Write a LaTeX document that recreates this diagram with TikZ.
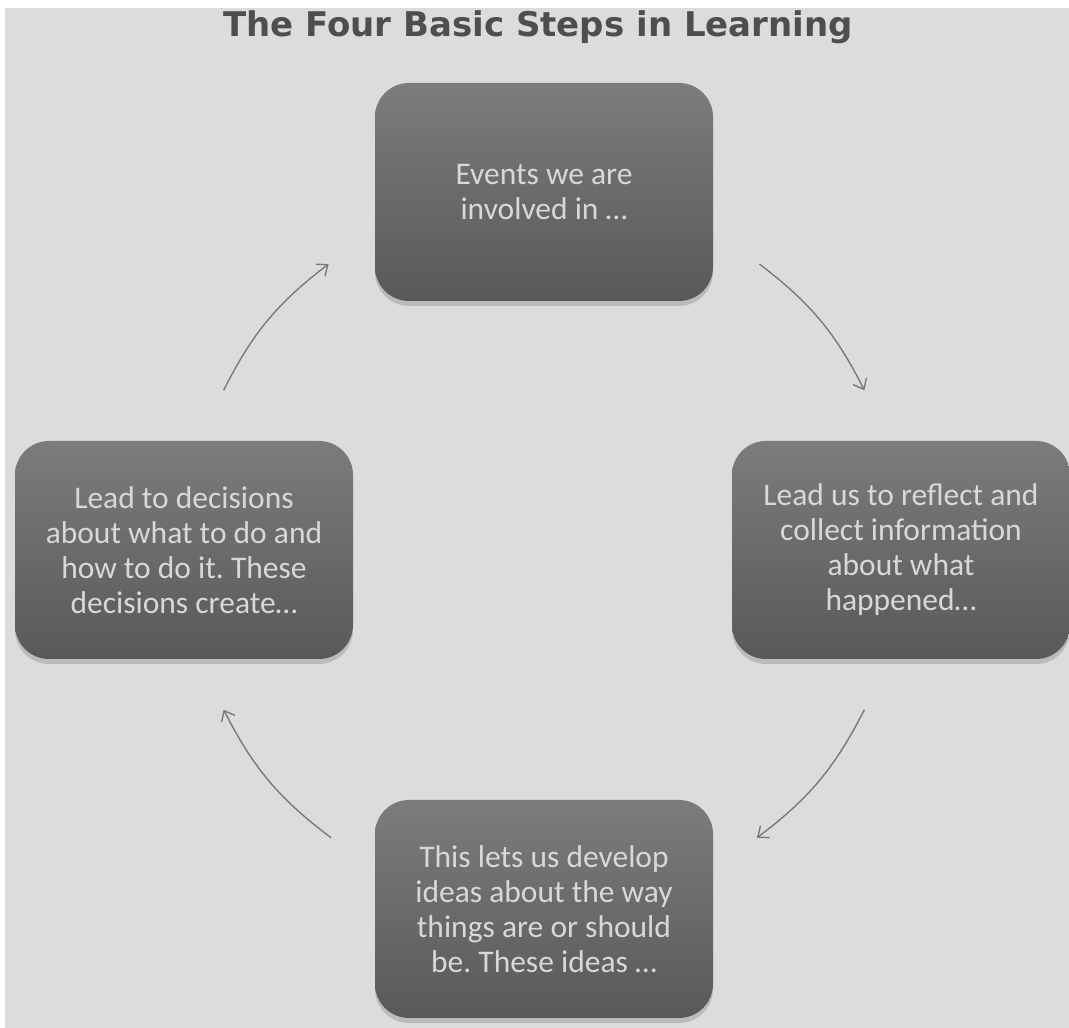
\documentclass[tikz,border=0pt]{standalone}
\usepackage{fontspec}
\setmainfont{Carlito}
\newfontfamily\titelfont{DejaVu Sans}
\usetikzlibrary{calc,shadows,arrows.meta}
\frenchspacing

\definecolor{hintergrund}{HTML}{DCDCDC}
\definecolor{boxoben}{HTML}{7C7C7C}
\definecolor{boxunten}{HTML}{595959}
\definecolor{boxtext}{HTML}{D8D8D8}
\definecolor{titel}{HTML}{4E4E4E}
\definecolor{pfeilfarbe}{HTML}{7A7A7A}

\tikzset{
    schritt/.style={rectangle, rounded corners=34pt, minimum width=338pt,
        minimum height=218pt, top color=boxoben, bottom color=boxunten,
        text=boxtext, align=center, font=\fontsize{31.5}{35}\selectfont,
        drop shadow={shadow xshift=0pt, shadow yshift=-5pt, opacity=0.35}},
    pfeil/.style={draw=pfeilfarbe, line width=1.4pt,
        -{Straight Barb[length=9pt,width=15pt]}}
}

\begin{document}
\begin{tikzpicture}[x=1pt,y=1pt]
            % Radius des Kreises
            \def\r{358}

            % Hintergrund
            \useasboundingbox (0,0) rectangle (1069,1028);
            \fill[white] (0,0) rectangle (1069,1028);
            \fill[hintergrund] (5,0) rectangle (1069,1020);

            % Titel
            \node[font=\titelfont\bfseries\fontsize{34}{40}\selectfont, text=titel, anchor=base]
                (titel) at (538,991) {The Four Basic Steps in Learning};

            % Mittelpunkt
            \coordinate (m) at (544,478);

            % Die vier Schritte
            \node[schritt] (oben) at (544,836) {Events we are\\involved in \dots};
            \node[schritt] (rechts) at (901,478) {Lead us to reflect and\\collect information\\about what\\happened\dots};
            \node[schritt] (unten) at (544,119) {This lets us develop\\ideas about the way\\things are or should\\be. These ideas \dots};
            \node[schritt] (links) at (184,478) {Lead to decisions\\about what to do and\\how to do it. These\\decisions create\dots};

            % Punkte auf dem Kreis
            \foreach \w [count=\i] in {53,26.5,-26.5,-53.5,-126.5,-153.5,153.5,127} {
                \coordinate (p\i) at ($(m)+(\w:\r)$);
            }

            % Pfeile im Uhrzeigersinn
            \foreach \i/\j in {1/2,3/4,5/6,7/8} {
                \draw[pfeil] (p\i) to[bend left=13] (p\j);
            }
        \end{tikzpicture}
\end{document}
